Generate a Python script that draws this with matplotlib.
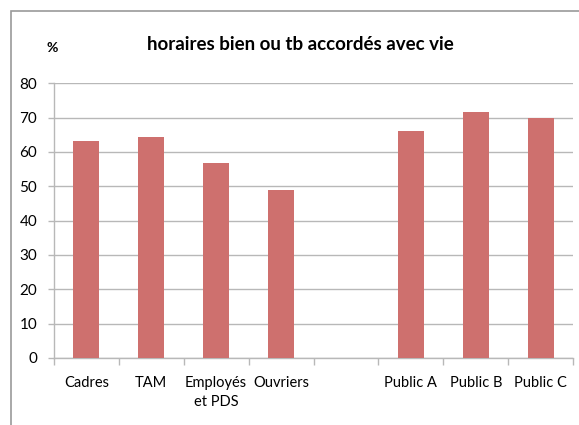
import numpy as np
import matplotlib.pyplot as plt
from matplotlib.patches import Rectangle

plt.rcParams['font.family'] = ['Lato', 'DejaVu Sans']

categories = ["Cadres", "TAM", "Employés\net PDS", "Ouvriers", "",
              "Public A", "Public B", "Public C"]
values = [63.2, 64.4, 56.9, 49.0, np.nan, 66.0, 71.7, 70.0]
yticks = [0, 10, 20, 30, 40, 50, 60, 70, 80]

bar_color = '#CE706E'
grid_color = '#B8B8B8'

fig = plt.figure(figsize=(5.79, 4.25), dpi=100)
ax = fig.add_axes([0.093, 0.158, 0.897, 0.646])

# chart border (extends past the right/bottom of the picture)
fig.patches.append(Rectangle((11 / 579, -0.1), 1.2, 1 - 11 / 425 + 0.1,
                             transform=fig.transFigure, fill=False,
                             edgecolor='#9A9A9A', linewidth=1.2))

x = np.arange(len(categories))
ax.bar(x, values, width=0.4, color=bar_color, zorder=3)

ax.set_xlim(-0.5, len(categories) - 0.5)
ax.set_ylim(0, 80)
ax.set_yticks(yticks)
ax.yaxis.grid(True, color=grid_color, linewidth=1.0, zorder=0)

ax.set_xticks(x)
ax.set_xticklabels(categories, fontsize=10.5, linespacing=1.5)
ax.set_xticks(np.arange(-0.5, len(categories), 1), minor=True)
ax.tick_params(axis='x', which='major', length=0, pad=13)
ax.tick_params(axis='x', which='minor', length=5, color=grid_color, width=1)
ax.tick_params(axis='y', length=4, color=grid_color, width=1, pad=8,
               labelsize=11)

for s in ['top', 'right']:
    ax.spines[s].set_visible(False)
for s in ['left', 'bottom']:
    ax.spines[s].set_color(grid_color)
    ax.spines[s].set_linewidth(1.0)

fig.text(0.518, 0.895, "horaires bien ou tb accordés avec vie",
         ha='center', va='center', fontsize=13.5, fontweight='bold')
fig.text(0.09, 0.888, "%", ha='center', va='center', fontsize=10,
         fontweight='bold')

fig.savefig('out.png', dpi=100)
